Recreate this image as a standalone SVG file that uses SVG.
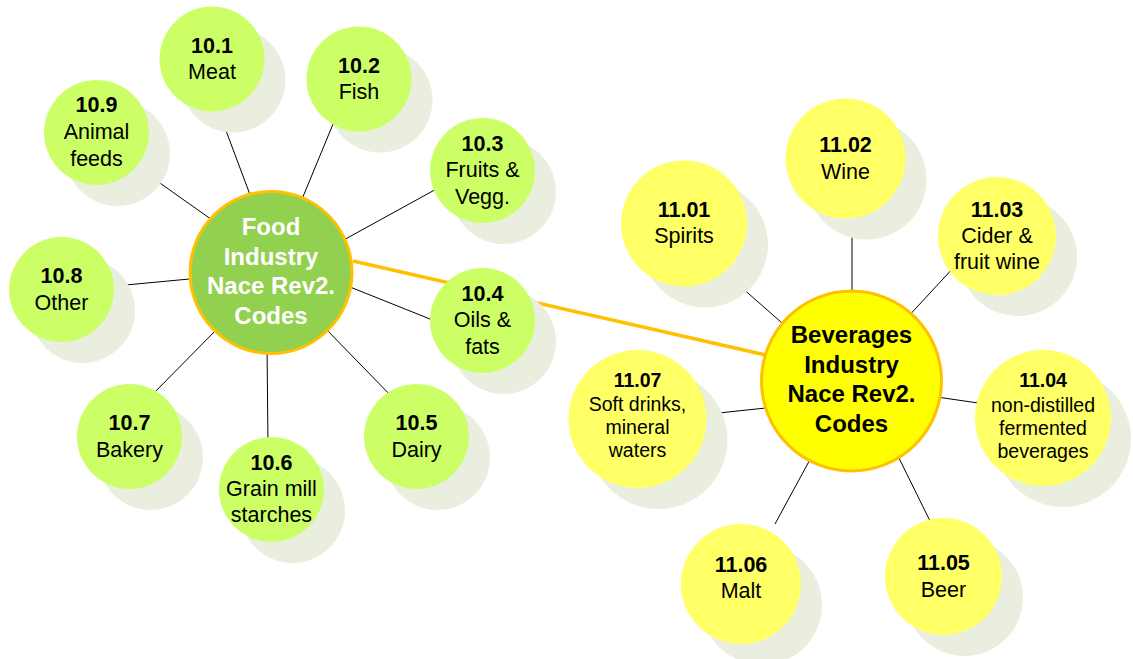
<svg xmlns="http://www.w3.org/2000/svg" width="1133" height="659" viewBox="0 0 1133 659">
<style>
.sh{fill:#E9EEDF}
.g{fill:#CCFF66}
.y{fill:#FFFF66}
.ln{stroke:#000;stroke-width:1;fill:none}
.t{font-family:"Liberation Sans",Arial,sans-serif;font-size:21.5px;fill:#000;text-anchor:middle}
.s{font-size:19.5px}
.b{font-weight:bold}
.c{font-family:"Liberation Sans",Arial,sans-serif;font-size:24px;font-weight:bold;text-anchor:middle}
</style>
<rect width="1133" height="659" fill="#fff"/>
<g id="connectors">
<line class="ln" x1="150" y1="176" x2="215" y2="222"/>
<line class="ln" x1="222" y1="120" x2="252" y2="200"/>
<line class="ln" x1="338" y1="112" x2="300" y2="204"/>
<line class="ln" x1="440" y1="187" x2="340" y2="242"/>
<line class="ln" x1="440" y1="323" x2="345" y2="285"/>
<line class="ln" x1="395" y1="400" x2="325" y2="328"/>
<line class="ln" x1="268" y1="445" x2="267" y2="345"/>
<line class="ln" x1="148" y1="399" x2="220" y2="326"/>
<line class="ln" x1="115" y1="286" x2="200" y2="278"/>
<line class="ln" x1="716" y1="265" x2="790" y2="330"/>
<line class="ln" x1="852" y1="210" x2="852" y2="300"/>
<line class="ln" x1="955" y1="266" x2="905" y2="320"/>
<line class="ln" x1="930" y1="396" x2="985" y2="404"/>
<line class="ln" x1="895" y1="450" x2="933" y2="527"/>
<line class="ln" x1="813" y1="454" x2="775" y2="524"/>
<line class="ln" x1="700" y1="415" x2="775" y2="407"/>
<line x1="353" y1="261" x2="770" y2="356" stroke="#FFC000" stroke-width="3.5"/>
</g>
<g id="food-center">
<circle cx="271" cy="272.5" r="81" fill="#92D050" stroke="#FFC000" stroke-width="3"/>
<text class="c" fill="#fff"><tspan x="271" y="235">Food</tspan><tspan x="271" y="264.5">Industry</tspan><tspan x="271" y="294">Nace Rev2.</tspan><tspan x="271" y="323.5">Codes</tspan></text>
</g>
<g id="bev-center">
<circle cx="851.5" cy="381" r="90" fill="#FFFF00" stroke="#FFC000" stroke-width="3"/>
<text class="c" fill="#000"><tspan x="851.5" y="343">Beverages</tspan><tspan x="851.5" y="372.5">Industry</tspan><tspan x="851.5" y="402">Nace Rev2.</tspan><tspan x="851.5" y="431.5">Codes</tspan></text>
</g>
<g id="n10-1">
<circle class="sh" cx="233" cy="80" r="52.5"/><circle class="g" cx="212" cy="59" r="52.5"/>
<text class="t"><tspan class="b" x="212" y="52.5">10.1</tspan><tspan x="212" y="79">Meat</tspan></text>
</g>
<g id="n10-2">
<circle class="sh" cx="380" cy="100" r="52.5"/><circle class="g" cx="359" cy="79" r="52.5"/>
<text class="t"><tspan class="b" x="359" y="72.5">10.2</tspan><tspan x="359" y="99">Fish</tspan></text>
</g>
<g id="n10-3">
<circle class="sh" cx="503.5" cy="191.5" r="52.5"/><circle class="g" cx="482.5" cy="170.5" r="52.5"/>
<text class="t"><tspan class="b" x="482.5" y="150.5">10.3</tspan><tspan x="482.5" y="177">Fruits &amp;</tspan><tspan x="482.5" y="203.5">Vegg.</tspan></text>
</g>
<g id="n10-4">
<circle class="sh" cx="503.5" cy="341.5" r="52.5"/><circle class="g" cx="482.5" cy="320.5" r="52.5"/>
<text class="t"><tspan class="b" x="482.5" y="300.5">10.4</tspan><tspan x="482.5" y="327">Oils &amp;</tspan><tspan x="482.5" y="353.5">fats</tspan></text>
</g>
<g id="n10-5">
<circle class="sh" cx="437.5" cy="457.5" r="52.5"/><circle class="g" cx="416.5" cy="436.5" r="52.5"/>
<text class="t"><tspan class="b" x="416.5" y="430">10.5</tspan><tspan x="416.5" y="456.5">Dairy</tspan></text>
</g>
<g id="n10-6">
<circle class="sh" cx="292.5" cy="510.5" r="52.5"/><circle class="g" cx="271.5" cy="489.5" r="52.5"/>
<text class="t"><tspan class="b" x="271.5" y="469.5">10.6</tspan><tspan x="271.5" y="496">Grain mill</tspan><tspan x="271.5" y="522">starches</tspan></text>
</g>
<g id="n10-7">
<circle class="sh" cx="150.5" cy="457.5" r="52.5"/><circle class="g" cx="129.5" cy="436.5" r="52.5"/>
<text class="t"><tspan class="b" x="129.5" y="430">10.7</tspan><tspan x="129.5" y="456.5">Bakery</tspan></text>
</g>
<g id="n10-8">
<circle class="sh" cx="82.5" cy="310.5" r="52.5"/><circle class="g" cx="61.5" cy="289.5" r="52.5"/>
<text class="t"><tspan class="b" x="61.5" y="283.3">10.8</tspan><tspan x="61.5" y="309.5">Other</tspan></text>
</g>
<g id="n10-9">
<circle class="sh" cx="117.5" cy="153.5" r="52.5"/><circle class="g" cx="96.5" cy="132.5" r="52.5"/>
<text class="t"><tspan class="b" x="96.5" y="112.3">10.9</tspan><tspan x="96.5" y="139">Animal</tspan><tspan x="96.5" y="165.7">feeds</tspan></text>
</g>
<g id="n11-01">
<circle class="sh" cx="705" cy="244.5" r="63"/><circle class="y" cx="684" cy="223.5" r="63"/>
<text class="t"><tspan class="b" x="684" y="216.5">11.01</tspan><tspan x="684" y="242.7">Spirits</tspan></text>
</g>
<g id="n11-02">
<circle class="sh" cx="866.5" cy="179.5" r="60"/><circle class="y" cx="845.5" cy="158.5" r="60"/>
<text class="t"><tspan class="b" x="845.5" y="152.3">11.02</tspan><tspan x="845.5" y="179">Wine</tspan></text>
</g>
<g id="n11-03">
<circle class="sh" cx="1018" cy="257" r="59"/><circle class="y" cx="997" cy="236" r="59"/>
<text class="t"><tspan class="b" x="997" y="217">11.03</tspan><tspan x="997" y="243">Cider &amp;</tspan><tspan x="997" y="269">fruit wine</tspan></text>
</g>
<g id="n11-04">
<circle class="sh" cx="1063" cy="439" r="68"/><circle class="y" cx="1043" cy="418" r="68"/>
<text class="t s"><tspan class="b" x="1043" y="387.3">11.04</tspan><tspan x="1043" y="411.7">non-distilled</tspan><tspan x="1043" y="435">fermented</tspan><tspan x="1043" y="458.3">beverages</tspan></text>
</g>
<g id="n11-05">
<circle class="sh" cx="964.5" cy="597.5" r="58.5"/><circle class="y" cx="943.5" cy="576.5" r="58.5"/>
<text class="t"><tspan class="b" x="943.5" y="570">11.05</tspan><tspan x="943.5" y="596.7">Beer</tspan></text>
</g>
<g id="n11-06">
<circle class="sh" cx="762" cy="605" r="60"/><circle class="y" cx="741" cy="584" r="60"/>
<text class="t"><tspan class="b" x="741" y="571.5">11.06</tspan><tspan x="741" y="598">Malt</tspan></text>
</g>
<g id="n11-07">
<circle class="sh" cx="658.5" cy="440" r="69"/><circle class="y" cx="637.5" cy="419" r="69"/>
<text class="t s"><tspan class="b" x="637.5" y="386.7">11.07</tspan><tspan x="637.5" y="410.7">Soft drinks,</tspan><tspan x="637.5" y="434">mineral</tspan><tspan x="637.5" y="457.3">waters</tspan></text>
</g>
</svg>
